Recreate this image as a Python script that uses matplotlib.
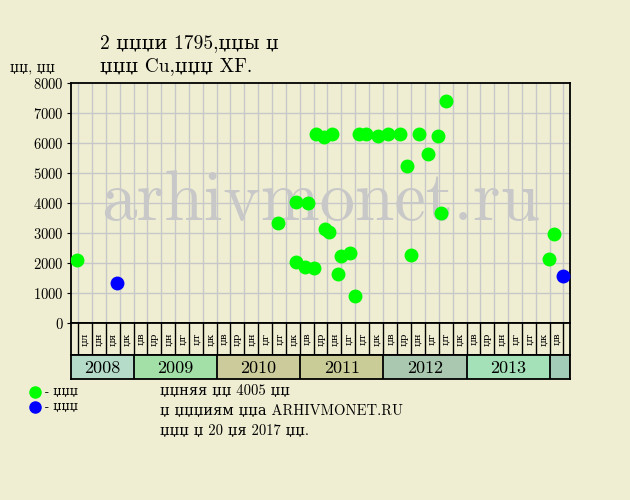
import datetime as dt
import numpy as np
import matplotlib
matplotlib.use("Agg")
import matplotlib.pyplot as plt
import matplotlib.dates as mdates

# family list: cmr10 for latin/digits, DejaVu Serif for the rest
FONT = ['cmr10', 'DejaVu Serif']
plt.rcParams['font.family'] = FONT
plt.rcParams['axes.formatter.use_mathtext'] = True

BG = '#efeed2'

# --- data ---
green_dates = ['2008-04-28', '2010-09-24', '2010-12-12', '2010-12-15', '2011-01-21',
               '2011-02-05', '2011-03-04', '2011-03-11', '2011-04-17', '2011-04-21',
               '2011-05-07', '2011-05-23', '2011-06-18', '2011-06-30', '2011-08-06',
               '2011-09-01', '2011-09-18', '2011-10-17', '2011-12-10', '2012-01-20',
               '2012-03-16', '2012-04-16', '2012-04-30', '2012-06-04', '2012-07-14',
               '2012-08-27', '2012-09-08', '2012-09-30', '2013-12-27', '2014-01-18']
green_prices = [2100, 3350, 4050, 2030, 1880,
                3990, 1820, 6300, 6210, 3120,
                3040, 6300, 1620, 2230, 2330,
                890, 6300, 6300, 6220, 6300,
                6300, 5220, 2260, 6300, 5630,
                6220, 3660, 7390, 2130, 2970]
blue_dates = ['2008-10-19', '2014-02-27']
blue_prices = [1330, 1560]

years = [2008, 2009, 2010, 2011, 2012, 2013, 2014]
year_colors = ['#b4dcc8', '#a2e0a8', '#cbcb9c', '#cacc98', '#aac8b0', '#a4e0b8', '#a2ccb8']
month_labels_2008 = ['џл', 'џн', 'џя', 'џк']
month_labels = ['џв', 'џр', 'џн', 'џг', 'џт', 'џк']

title = '2 џџџи 1795,џџы џ\nџџџ Cu,џџџ XF.'
ylabel = 'џџ, џџ'
legend_green = '- џџџ'
legend_blue = '- џџџ'
footer = ['џџняя џџ 4005 џџ', 'џ џџџиям џџа ARHIVMONET.RU', 'џџџ џ 20 џя 2017 џџ.']


def d(s):
    return mdates.date2num(dt.datetime.strptime(s, '%Y-%m-%d'))


x0 = mdates.date2num(dt.datetime(2008, 4, 1))
x1 = mdates.date2num(dt.datetime(2014, 3, 30))

# grid boundaries every two months (Jan, Mar, May, ...)
bounds = [mdates.date2num(dt.datetime(y, m, 1)) for y in range(2008, 2015) for m in (1, 3, 5, 7, 9, 11)]
bounds = [b for b in bounds if x0 < b < x1]

fig = plt.figure(figsize=(6.3, 5), dpi=100, facecolor=BG)
ax = fig.add_axes([71 / 630, 177 / 500, 499 / 630, 240 / 500], facecolor=BG)

ax.set_xlim(x0, x1)
ax.set_ylim(0, 8000)
ax.set_yticks(np.arange(0, 8001, 1000))
ax.set_xticks(bounds)
ax.set_xticklabels([])
for v in bounds:
    ax.axvline(v, color='#c8c8c8', lw=1, zorder=0)
for v in range(1000, 8000, 1000):
    ax.axhline(v, color='#c8c8c8', lw=1, zorder=0)
ax.tick_params(axis='y', length=3, labelsize=10.5, pad=2)
ax.tick_params(axis='x', length=5, direction='out')
for s in ax.spines.values():
    s.set_linewidth(1.3)

ax.text(0.5, 0.43, 'arhivmonet.ru', transform=ax.transAxes, ha='center', va='baseline',
        fontsize=51, color='#c8c8c8', family=FONT, zorder=1)

ax.plot([d(s) for s in green_dates], green_prices, 'o', color='#00ff00', ms=9, zorder=3)
ax.plot([d(s) for s in blue_dates], blue_prices, 'o', color='#0000ff', ms=9, zorder=3)

# month row
axm = fig.add_axes([71 / 630, 145 / 500, 499 / 630, 32 / 500], facecolor=BG)
axm.set_xlim(x0, x1)
axm.set_ylim(0, 1)
axm.set_xticks([])
axm.set_yticks([])
for v in bounds:
    axm.axvline(v, color='black', lw=1)
for s in axm.spines.values():
    s.set_linewidth(1.3)
cells = []
for i in range(len(bounds) - 1):
    cells.append(((bounds[i] + bounds[i + 1]) / 2))
labels = month_labels_2008 + month_labels * 5 + ['џв']
for c, lab in zip(cells, labels):
    axm.text(c, 0.5, lab, rotation=90, ha='center', va='center', fontsize=7.5, family=FONT)

# year row
axy = fig.add_axes([71 / 630, 121 / 500, 499 / 630, 24 / 500], facecolor=BG)
axy.set_xlim(x0, x1)
axy.set_ylim(0, 1)
axy.set_xticks([])
axy.set_yticks([])
for y, col in zip(years, year_colors):
    a = max(mdates.date2num(dt.datetime(y, 1, 1)), x0)
    b = min(mdates.date2num(dt.datetime(y + 1, 1, 1)), x1)
    axy.axvspan(a, b, color=col, lw=0)
    axy.axvline(b, color='black', lw=1.3)
    if y < 2014:
        axy.text((a + b) / 2, 0.45, str(y), ha='center', va='center', fontsize=13, family=FONT)
for s in axy.spines.values():
    s.set_linewidth(1.3)

# texts
fig.text(100 / 630, 1 - 43 / 500, title.split('\n')[0], ha='left', va='center', fontsize=14)
fig.text(100 / 630, 1 - 66 / 500, title.split('\n')[1], ha='left', va='center', fontsize=14)
fig.text(10 / 630, 1 - 68 / 500, ylabel, ha='left', va='center', fontsize=10)

fig.lines.append(plt.Line2D([35 / 630], [1 - 392 / 500], marker='o', color='#00ff00', ms=8,
                            transform=fig.transFigure))
fig.lines.append(plt.Line2D([35 / 630], [1 - 407 / 500], marker='o', color='#0000ff', ms=8,
                            transform=fig.transFigure))
fig.text(45 / 630, 1 - 392 / 500, legend_green, ha='left', va='center', fontsize=9)
fig.text(45 / 630, 1 - 407 / 500, legend_blue, ha='left', va='center', fontsize=9)
for i, line in enumerate(footer):
    fig.text(160 / 630, 1 - (391 + 20 * i) / 500, line, ha='left', va='center', fontsize=10.5)

fig.savefig('out.png', dpi=100, facecolor=BG)
